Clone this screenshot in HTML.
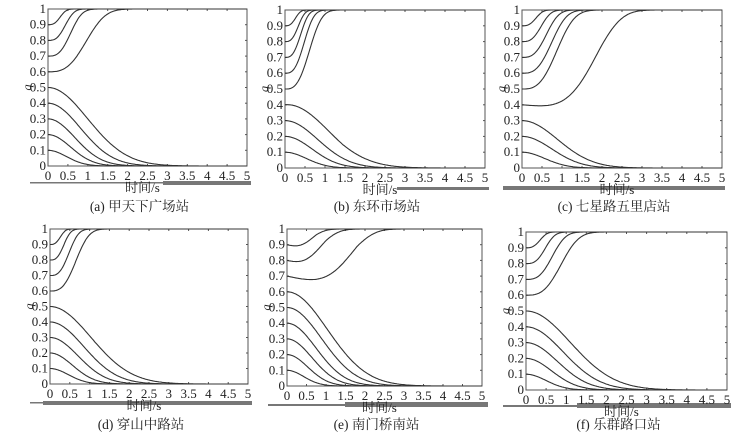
<!DOCTYPE html><html><head><meta charset="utf-8"><style>
body{margin:0;background:#fff}svg{display:block}
text{font-family:"Liberation Serif","Noto Serif CJK SC",serif;fill:#222}
</style></head><body>
<svg id="s" width="749" height="437" xmlns="http://www.w3.org/2000/svg">
<rect x="30" y="182" width="133" height="1.5" fill="#777"/><rect x="163" y="181" width="88" height="4" fill="#777"/>
<rect x="397" y="187" width="92" height="3" fill="#777"/>
<rect x="503" y="186" width="222" height="4" fill="#777"/>
<rect x="30" y="402" width="13" height="1.5" fill="#777"/><rect x="43" y="401" width="209" height="4" fill="#777"/>
<rect x="268" y="404" width="77" height="2" fill="#777"/><rect x="345" y="402" width="143" height="5" fill="#777"/>
<rect x="503" y="405" width="74" height="2" fill="#777"/><rect x="577" y="403" width="154" height="5" fill="#777"/>
</svg>
<script>
const P=[
{l:48,r:247,t:9,b:166,cap:"(a) 甲天下广场站",cy:211,
 up:[[.9,.35],[.8,.5],[.7,.65],[.6,1.1]],dn:[[.5,1.4],[.4,1.15],[.3,.95],[.2,.8],[.1,.65]]},
{l:285,r:485,t:10,b:168,cap:"(b) 东环市场站",cy:211,
 up:[[.9,.3],[.8,.38],[.7,.45],[.6,.55],[.5,.7]],dn:[[.4,1.45,.01],[.3,1.15],[.2,.95],[.1,.75]]},
{l:522,r:722,t:10,b:168,cap:"(c) 七星路五里店站",cy:211,
 up:[[.9,.4],[.8,.55],[.7,.7],[.6,.85],[.5,1.0],[.4,2.0,-.012,4]],dn:[[.3,1.25],[.2,1.05],[.1,.8]]},
{l:50,r:248,t:229,b:384,cap:"(d) 穿山中路站",cy:429,
 up:[[.9,.3],[.8,.4],[.7,.55],[.6,.75]],dn:[[.5,1.45],[.4,1.2],[.3,1.0],[.2,.8],[.1,.65]]},
{l:287,r:482,t:229,b:386,cap:"(e) 南门桥南站",cy:429,
 up:[[.9,.75,-.012],[.8,1.0,-.015],[.7,1.8,-.03,4]],dn:[[.6,1.45],[.5,1.25],[.4,1.05],[.3,.9],[.2,.75],[.1,.6]]},
{l:526,r:727,t:232,b:390,cap:"(f) 乐群路口站",cy:429,
 up:[[.9,.4],[.8,.55],[.7,.75],[.6,1.0]],dn:[[.5,1.55],[.4,1.3],[.3,1.1],[.2,.9],[.1,.7]]}];
let h='';
for(const p of P){
 const X=t=>p.l+(p.r-p.l)*t/5,Y=q=>p.b-(p.b-p.t)*q;
 h+=`<rect x="${p.l}" y="${p.t}" width="${p.r-p.l}" height="${p.b-p.t}" fill="none" stroke="#555" stroke-width="1"/>`;
 for(let i=0;i<=10;i++){const x=X(i/2),y=Y(i/10);
  h+=`<text x="${x}" y="${p.b+14}" font-size="13" text-anchor="middle">${i/2}</text>`;
  h+=`<text x="${p.l-2}" y="${y+4}" font-size="13" text-anchor="end">${i==10?1:i==0?0:(i/10).toFixed(1)}</text>`;
  h+=`<line x1="${x}" y1="${p.b}" x2="${x}" y2="${p.b-2}" stroke="#555"/><line x1="${x}" y1="${p.t}" x2="${x}" y2="${p.t+2}" stroke="#555"/>`;
  h+=`<line x1="${p.l}" y1="${y}" x2="${p.l+2}" y2="${y}" stroke="#555"/><line x1="${p.r}" y1="${y}" x2="${p.r-2}" y2="${y}" stroke="#555"/>`;}
 const cx=(p.l+p.r)/2;
 h+=`<text x="${cx-5}" y="${p.b+26}" font-size="13" text-anchor="middle">时间/s</text>`;
 h+=`<text x="0" y="0" font-size="12" font-style="italic" transform="translate(${p.l-17},${(p.t+p.b)/2}) rotate(-90)" text-anchor="middle">q</text>`;
 h+=`<text x="${cx-8}" y="${p.cy}" font-size="13.5" text-anchor="middle">${p.cap}</text>`;
 const curve=(q0,tau,d,pw,up)=>{let s='';for(let k=0;k<=200;k++){const t=k*5/200;
  const e=Math.exp(-Math.pow(t/tau,pw||(up?3:2)));
  let q=up?1-(1-q0)*e:q0*e; if(d) q+=d*Math.sin(Math.min(t/tau,1)*Math.PI)*(up?1:-1);
  s+=(k?'L':'M')+X(t).toFixed(1)+','+Y(q).toFixed(1);}
  return `<path d="${s}" fill="none" stroke="#333" stroke-width="1.1"/>`;};
 for(const c of p.up)h+=curve(c[0],c[1],c[2],c[3],true);
 for(const c of p.dn)h+=curve(c[0],c[1],c[2]?-c[2]:0,c[3],false);
}
document.getElementById('s').insertAdjacentHTML('beforeend',h);
</script></body></html>
